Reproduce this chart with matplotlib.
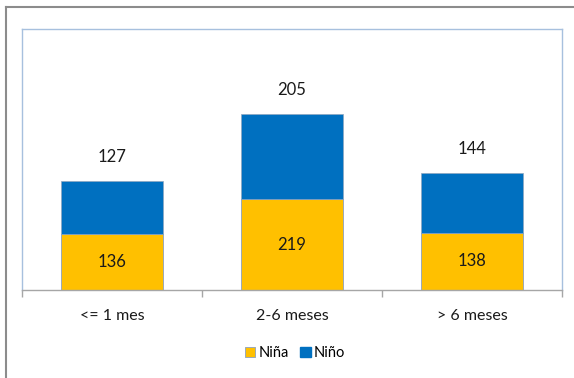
import matplotlib
matplotlib.use('Agg')
import matplotlib.pyplot as plt
from matplotlib.lines import Line2D
from matplotlib.patches import Patch

plt.rcParams['font.family'] = ['Lato', 'DejaVu Sans']

# datos
categorias = ['<= 1 mes', '2-6 meses', '> 6 meses']
nina = [136, 219, 138]
nino = [127, 205, 144]

amarillo = '#FFC000'
azul = '#0070C0'

fig = plt.figure(figsize=(5.74, 3.78), dpi=100)
ax = fig.add_axes([22/574, 1 - 290/378, (562 - 22)/574, (290 - 29)/378])

x = range(len(categorias))
ax.bar(x, nina, width=0.57, color=amarillo, edgecolor='#9aa9b8', linewidth=0.7)
ax.bar(x, nino, width=0.57, bottom=nina, color=azul, edgecolor='#8fa6bf', linewidth=0.5)

# etiquetas
for i in x:
    ax.text(i, nina[i] / 2, str(nina[i]), ha='center', va='center', fontsize=12, color='#1a1a1a')
    ax.text(i, nina[i] + nino[i] + 58, str(nino[i]), ha='center', va='center', fontsize=12, color='#1a1a1a')

ax.set_xlim(-0.5, 2.5)
ax.set_ylim(0, 630)
ax.set_yticks([])

ax.set_xticks([-0.5, 0.5, 1.5, 2.5])
ax.set_xticklabels([])
ax.tick_params(axis='x', which='major', length=5, color='#a6a6a6', width=1)
ax.set_xticks(list(x), minor=True)
ax.set_xticklabels(categorias, minor=True, fontsize=11.5)
ax.tick_params(axis='x', which='minor', length=0, pad=14, colors='#1a1a1a')

for s in ['left', 'top', 'right']:
    ax.spines[s].set_color('#a7c0de')
    ax.spines[s].set_linewidth(1)
ax.spines['bottom'].set_color('#a6a6a6')
ax.spines['bottom'].set_linewidth(1)

# leyenda
handles = [Patch(facecolor=amarillo, edgecolor='#9aa9b8', linewidth=0.7, label='Niña'),
           Patch(facecolor=azul, edgecolor=azul, label='Niño')]
fig.legend(handles=handles, loc='center', bbox_to_anchor=(295/574, 1 - 353/378), ncol=2,
           frameon=False, fontsize=10.5, handlelength=0.7, handleheight=0.7,
           handletextpad=0.2, columnspacing=0.8)

# borde exterior
fig.add_artist(Line2D([6/574, 6/574], [0, 1 - 7/378], transform=fig.transFigure, color='#8c8c8c', linewidth=1.5))
fig.add_artist(Line2D([6/574, 1], [1 - 7/378, 1 - 7/378], transform=fig.transFigure, color='#8c8c8c', linewidth=1.5))

fig.savefig('out.png', dpi=100)
